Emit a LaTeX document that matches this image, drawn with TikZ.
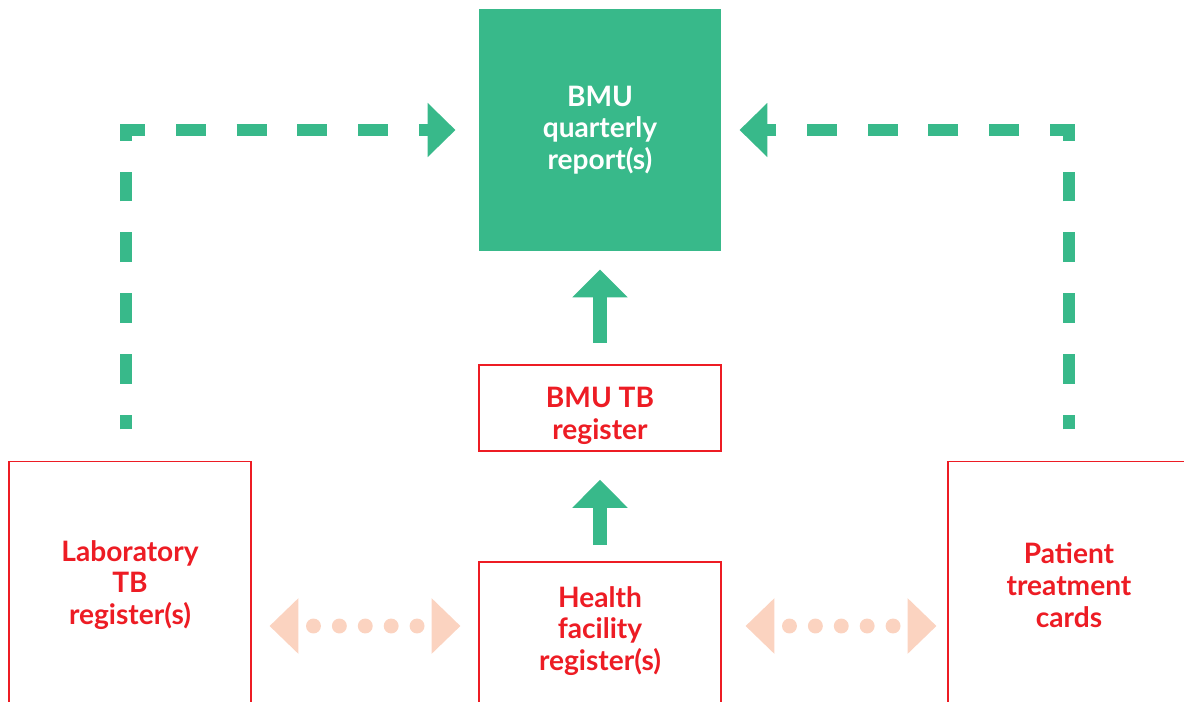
\documentclass[tikz,border=0pt]{standalone}
\usepackage{fontspec}
\setmainfont{Lato}
\usetikzlibrary{arrows.meta,calc}
\definecolor{tbgreen}{HTML}{38B98A}
\definecolor{tbred}{HTML}{ED1C24}
\definecolor{tbpeach}{HTML}{FBD3C0}
\begin{document}
\begin{tikzpicture}[x=0.02cm,y=-0.02cm,
  txt/.style={font=\bfseries\fontsize{16}{18.1}\selectfont, align=center, inner sep=0pt},
  redbox/.style={draw=tbred, line width=1.13pt, text=tbred, inner sep=0pt, outer sep=0pt,
    minimum width=137.2pt, font=\bfseries\fontsize{16}{18.1}\selectfont, align=center},
  greenbox/.style={fill=tbgreen, text=white, inner sep=0pt, outer sep=0pt,
    minimum width=137.2pt, minimum height=137.2pt, font=\bfseries\fontsize{16}{18.1}\selectfont, align=center},
  greendash/.style={draw=tbgreen, line width=7.37pt, line cap=butt, line join=miter,
    dash pattern=on 17pt off 17.57pt, dash phase=8.5pt,
    -{Triangle[length=15.9pt,width=30pt]}},
  uparrow/.style={draw=tbgreen, line width=7.94pt, -{Triangle[length=15.9pt,width=30.6pt]}},
  peacharrow/.style={draw=tbpeach, line width=8.5pt, line cap=round,
    dash pattern=on 0pt off 14.74pt, dash phase=5.1pt,
    {Triangle[length=16.4pt,width=30.6pt]}-{Triangle[length=16.4pt,width=30.6pt]}}
]
\useasboundingbox (0,0) rectangle (1184,701);
\node[greenbox] (quarterly) at (600,130) {BMU\\quarterly\\report(s)};
\node[redbox, minimum height=48.75pt] (reg) at (600,408) {};
\node[txt, text=tbred] (regtext) at (600,416) {BMU TB\\register};
\node[redbox, minimum height=140.6pt] (lab) at (130,585) {Laboratory\\TB\\register(s)};
\node[redbox, minimum height=140.6pt] (patient) at (1069,585) {Patient\\treatment\\cards};
\node[redbox, minimum height=89.6pt, anchor=north] (health) at (600,562) {};
\node[txt, text=tbred] (healthtext) at (600,631) {Health\\facility\\register(s)};
\coordinate (ylow) at (0,626);
\draw[greendash] ($(lab.north)+(-4,-32)$) |- ($(quarterly.west)+(-24,0)$);
\draw[greendash] ($(patient.north)+(0,-32)$) |- ($(quarterly.east)+(19,0)$);
\draw[uparrow] ($(reg.north)+(0,-22)$) -- ($(quarterly.south)+(0,19)$);
\draw[uparrow] ($(health.north)+(0,-17)$) -- ($(reg.south)+(0,29)$);
\draw[peacharrow] ($(lab.east |- ylow)+(19,0)$) -- ($(health.west |- ylow)+(-19,0)$);
\draw[peacharrow] ($(health.east |- ylow)+(25,0)$) -- ($(patient.west |- ylow)+(-12,0)$);
\end{tikzpicture}
\end{document}
